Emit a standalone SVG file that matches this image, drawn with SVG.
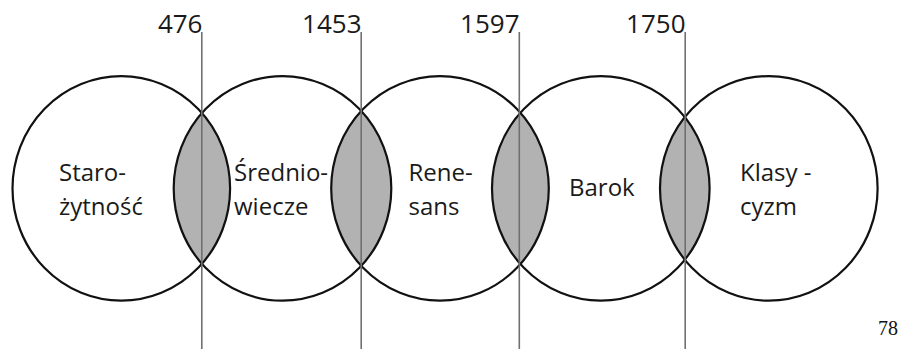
<svg xmlns="http://www.w3.org/2000/svg" width="900" height="349" viewBox="0 0 900 349">
  <style>
    .era { fill: none; stroke: #111; stroke-width: 2.2; }
    .lens { fill: #b2b2b2; stroke: none; }
    .mark { stroke: #707070; stroke-width: 1.6; fill: none; }
    .lbl { font-family: "Open Sans", "Liberation Sans", sans-serif; font-size: 24px; fill: #1a1a1a; }
    .year { font-family: "Open Sans", "Liberation Sans", sans-serif; font-size: 26px; fill: #1a1a1a; text-anchor: end; }
    .page { font-family: "Liberation Serif", serif; font-size: 20px; fill: #111; }
  </style>
  <defs>
    <clipPath id="c1"><ellipse cx="121.3" cy="188.4" rx="108.8" ry="112.3"/></clipPath>
    <clipPath id="c2"><ellipse cx="282.5" cy="188.4" rx="108.8" ry="112.3"/></clipPath>
    <clipPath id="c3"><ellipse cx="440" cy="188.4" rx="108.8" ry="112.3"/></clipPath>
    <clipPath id="c4"><ellipse cx="600.8" cy="188.4" rx="108.8" ry="112.3"/></clipPath>
  </defs>
  <rect width="900" height="349" fill="#fff"/>

  <g id="overlaps">
    <ellipse class="lens" cx="282.5" cy="188.4" rx="108.8" ry="112.3" clip-path="url(#c1)"/>
    <ellipse class="lens" cx="440" cy="188.4" rx="108.8" ry="112.3" clip-path="url(#c2)"/>
    <ellipse class="lens" cx="600.8" cy="188.4" rx="108.8" ry="112.3" clip-path="url(#c3)"/>
    <ellipse class="lens" cx="768.8" cy="188.4" rx="108.8" ry="112.3" clip-path="url(#c4)"/>
  </g>

  <g id="starozytnosc">
    <ellipse class="era" cx="121.3" cy="188.4" rx="108.8" ry="112.3"/>
    <text class="lbl" x="59" y="180.5">Staro-</text>
    <text class="lbl" x="59" y="215">żytność</text>
  </g>
  <g id="sredniowiecze">
    <ellipse class="era" cx="282.5" cy="188.4" rx="108.8" ry="112.3"/>
    <text class="lbl" x="234" y="180.5">Średnio-</text>
    <text class="lbl" x="234" y="215">wiecze</text>
  </g>
  <g id="renesans">
    <ellipse class="era" cx="440" cy="188.4" rx="108.8" ry="112.3"/>
    <text class="lbl" x="408.5" y="180.5">Rene-</text>
    <text class="lbl" x="408.5" y="215">sans</text>
  </g>
  <g id="barok">
    <ellipse class="era" cx="600.8" cy="188.4" rx="108.8" ry="112.3"/>
    <text class="lbl" x="569" y="195.5">Barok</text>
  </g>
  <g id="klasycyzm">
    <ellipse class="era" cx="768.8" cy="188.4" rx="108.8" ry="112.3"/>
    <text class="lbl" x="740" y="180.5">Klasy -</text>
    <text class="lbl" x="740" y="215">cyzm</text>
  </g>

  <g id="connectors">
    <line class="mark" x1="201.8" y1="32" x2="201.8" y2="349"/>
    <line class="mark" x1="361.2" y1="32" x2="361.2" y2="349"/>
    <line class="mark" x1="519.3" y1="32" x2="519.3" y2="349"/>
    <line class="mark" x1="685.2" y1="32" x2="685.2" y2="349"/>
  </g>

  <g id="years">
    <text class="year" x="202.5" y="32.7">476</text>
    <text class="year" x="361.5" y="32.7">1453</text>
    <text class="year" x="519.5" y="32.7">1597</text>
    <text class="year" x="685.5" y="32.7">1750</text>
  </g>

  <text class="page" x="878" y="335">78</text>
</svg>
